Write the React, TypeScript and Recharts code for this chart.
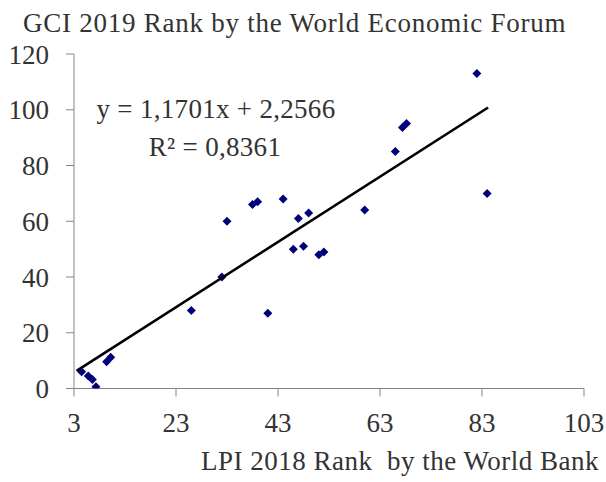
import React from 'react';
import { ScatterChart, Scatter, XAxis, YAxis, Label } from 'recharts';

const lpiRank = [4.5, 5.8, 6.6, 7.3, 9.4, 10.2, 26, 32, 33, 38, 39, 41, 44, 47, 49, 46, 48, 51, 52, 60, 66, 67.4, 68.2, 82, 84];
const gciRank = [6, 4.5, 3.2, 0.6, 9.6, 11.2, 28, 40, 60, 66, 67, 27, 68, 61, 63, 50, 51, 48, 49, 64, 85, 93.6, 95.1, 113, 70];

const trendX = [3.5, 84.2];
const trendY = [6.35, 100.8];

const xTicks = [3, 23, 43, 63, 83, 103];
const yTicks = [0, 20, 40, 60, 80, 100, 120];

const points = lpiRank.map((x, i) => ({ x, y: gciRank[i] }));
const trend = trendX.map((x, i) => ({ x, y: trendY[i] }));

const FONT = 'Liberation Serif, Times New Roman, DejaVu Serif, serif';
const TEXT = '#333333';
const AXIS = '#868686';
const MARK = '#00007a';

const Diamond = (props: any) => {
  const { cx, cy } = props;
  if (cx == null || cy == null) return null;
  const r = 4.5;
  return (
    <polygon
      points={`${cx},${cy - r} ${cx + r},${cy} ${cx},${cy + r} ${cx - r},${cy}`}
      fill={MARK}
    />
  );
};

const NoShape = () => null;

const txt = { fill: TEXT, fontSize: 27, fontFamily: FONT } as const;

export default function App() {
  return (
    <div style={{ position: 'fixed', left: 0, top: 0, width: 606, height: 482, fontFamily: FONT, background: '#fff' }}>
      <ScatterChart
        width={606}
        height={482}
        margin={{ top: 54, right: 22, bottom: 0, left: 0 }}
        style={{ fontFamily: FONT }}
      >
        <XAxis
          type="number"
          dataKey="x"
          domain={[3, 103]}
          ticks={xTicks}
          allowDataOverflow
          height={93.5}
          stroke={AXIS}
          tickSize={8}
          tickMargin={16}
          tick={{ ...txt }}
        >
          <Label
            content={() => (
              <text
                x={201}
                y={470}
                textAnchor="start"
                {...txt}
                letterSpacing={0.5}
                style={{ whiteSpace: 'pre', fontFamily: FONT }}
              >
                {'LPI 2018 Rank  by the World Bank'}
              </text>
            )}
          />
        </XAxis>
        <YAxis
          type="number"
          dataKey="y"
          domain={[0, 120]}
          ticks={yTicks}
          allowDataOverflow
          width={74}
          stroke={AXIS}
          tickSize={8}
          tickMargin={17}
          tick={{ ...txt }}
        >
          <Label
            content={() => (
              <g style={{ fontFamily: FONT }}>
                <text x={23} y={32} textAnchor="start" {...txt} letterSpacing={0.75}>
                  GCI 2019 Rank by the World Economic Forum
                </text>
                <text x={216} y={118} textAnchor="middle" {...txt} letterSpacing={0.3}>
                  y = 1,1701x + 2,2566
                </text>
                <text x={215} y={156} textAnchor="middle" {...txt} letterSpacing={0.3}>
                  R² = 0,8361
                </text>
              </g>
            )}
          />
        </YAxis>
        <Scatter data={points} shape={Diamond} isAnimationActive={false} />
        <Scatter
          data={trend}
          shape={NoShape}
          line={{ stroke: '#000000', strokeWidth: 2.6 }}
          lineType="joint"
          isAnimationActive={false}
        />
      </ScatterChart>
    </div>
  );
}
